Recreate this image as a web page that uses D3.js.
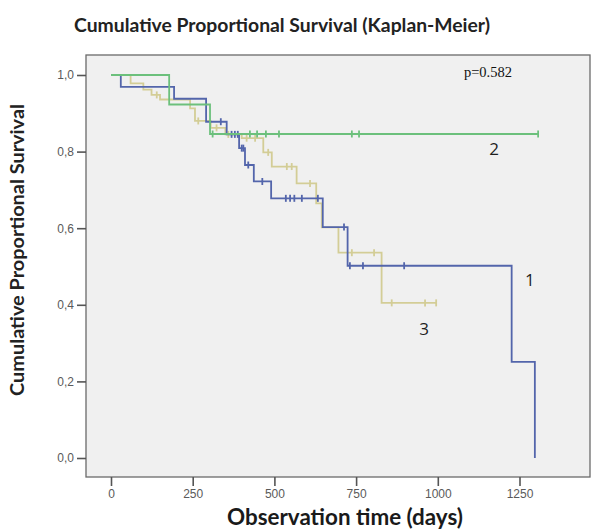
<!DOCTYPE html>
<html>
<head>
<meta charset="utf-8">
<script src="https://cdn.jsdelivr.net/npm/d3@7"></script>
<style>
  html, body { margin: 0; padding: 0; background: #ffffff; }
  svg { display: block; }
</style>
</head>
<body>
<div id="chart"></div>
<script>
// ---------- DATA ----------
const xTicks = [0, 250, 500, 750, 1000, 1250];
const yTicks = [0, 0.2, 0.4, 0.6, 0.8, 1.0];
const yTickLabels = ["0,0", "0,2", "0,4", "0,6", "0,8", "1,0"];

// Group 1 (blue)
const g1Times  = [0, 30, 193, 291, 354, 392, 410, 437, 490, 648, 724, 1226, 1297];
const g1Surv   = [1, 0.969, 0.938, 0.878, 0.845, 0.809, 0.765, 0.722, 0.678, 0.603, 0.502, 0.251, 0.0];
const g1Censor = [336, 369, 379, 388, 400, 405, 420, 463, 535, 548, 561, 584, 633, 713, 731, 771, 897];

// Group 2 (green)
const g2Times  = [0, 178, 303, 1307];
const g2Surv   = [1, 0.923, 0.846, 0.846];
const g2Censor = [311, 425, 447, 474, 514, 737, 759, 1307];

// Group 3 (tan)
const g3Times  = [0, 60, 99, 124, 150, 242, 257, 305, 350, 400, 466, 492, 568, 628, 645, 696, 828, 995];
const g3Surv   = [1, 0.978, 0.962, 0.948, 0.936, 0.913, 0.880, 0.862, 0.845, 0.835, 0.798, 0.761, 0.717, 0.665, 0.602, 0.536, 0.405, 0.405];
const g3Censor = [140, 267, 323, 359, 415, 441, 481, 538, 553, 609, 737, 805, 859, 961, 995];

const groupLabels = ["1", "2", "3"];
const titleText = "Cumulative Proportional Survival (Kaplan-Meier)";
const xTitle = "Observation time (days)";
const yTitle = "Cumulative Proportional Survival";
const pText = "p=0.582";

// ---------- LAYOUT ----------
const W = 593, H = 529;
const frame = { left: 86, top: 55, right: 590, bottom: 477 };

const svg = d3.select("#chart").append("svg")
  .attr("width", W).attr("height", H);

const x = d3.scaleLinear().domain([0, 1250]).range([111, 519.5]);
const y = d3.scaleLinear().domain([0, 1]).range([458, 75]);

// plot frame
svg.append("rect")
  .attr("x", frame.left).attr("y", frame.top)
  .attr("width", frame.right - frame.left)
  .attr("height", frame.bottom - frame.top)
  .attr("fill", "#f0f0f0")
  .attr("stroke", "#6a6a6a")
  .attr("stroke-width", 1.3);

// axes
const xAxis = d3.axisBottom(x).tickValues(xTicks).tickSize(9).tickPadding(3)
  .tickFormat(d => String(d));
const gx = svg.append("g").attr("transform", `translate(0,${frame.bottom})`).call(xAxis);

const yAxis = d3.axisLeft(y).tickValues(yTicks).tickSize(9).tickPadding(3)
  .tickFormat((d, i) => yTickLabels[i]);
const gy = svg.append("g").attr("transform", `translate(${frame.left},0)`).call(yAxis);

[gx, gy].forEach(g => {
  g.select(".domain").remove();
  g.selectAll(".tick line").attr("stroke", "#555").attr("stroke-width", 1.6);
  g.selectAll(".tick text")
    .attr("fill", "#5a5a5a")
    .style("font-family", "'Liberation Sans', Arial, sans-serif")
    .style("font-size", "12px");
});

// ---------- CURVES ----------
function survAt(times, surv, t) {
  let s = surv[0];
  for (let i = 0; i < times.length; i++) { if (times[i] <= t) s = surv[i]; }
  return s;
}

const groups = [
  { times: g3Times, surv: g3Surv, censor: g3Censor, color: "#d3cd96" },
  { times: g1Times, surv: g1Surv, censor: g1Censor, color: "#5365ab" },
  { times: g2Times, surv: g2Surv, censor: g2Censor, color: "#6cc07c" }
];

const line = d3.line().x(d => x(d[0])).y(d => y(d[1])).curve(d3.curveStepAfter);

groups.forEach(gr => {
  const pts = gr.times.map((t, i) => [t, gr.surv[i]]);
  svg.append("path")
    .attr("d", line(pts))
    .attr("fill", "none")
    .attr("stroke", gr.color)
    .attr("stroke-width", 1.8);
  svg.append("g").selectAll("line")
    .data(gr.censor)
    .join("line")
    .attr("x1", d => x(d)).attr("x2", d => x(d))
    .attr("y1", d => y(survAt(gr.times, gr.surv, d)) - 3.5)
    .attr("y2", d => y(survAt(gr.times, gr.surv, d)) + 3.5)
    .attr("stroke", gr.color)
    .attr("stroke-width", 1.8);
});

// group labels (positioned in data units)
const labelPos = [[1282, 0.462], [1172, 0.804], [958, 0.332]];
svg.append("g").selectAll("text")
  .data(groupLabels)
  .join("text")
  .attr("x", (d, i) => x(labelPos[i][0]))
  .attr("y", (d, i) => y(labelPos[i][1]))
  .attr("text-anchor", "middle")
  .attr("dominant-baseline", "middle")
  .attr("fill", "#1e1e1e")
  .style("font-family", "'Open Sans', sans-serif")
  .style("font-size", "17px")
  .text(d => d);

// p value
svg.append("text")
  .attr("x", 512).attr("y", 77)
  .attr("text-anchor", "end")
  .attr("fill", "#111")
  .style("font-family", "'Liberation Serif', 'Times New Roman', serif")
  .style("font-size", "14.5px")
  .text(pText);

// ---------- TITLES ----------
function fitText(sel, targetWidth) {
  const node = sel.node();
  const fs = parseFloat(sel.style("font-size"));
  const w = node.getComputedTextLength();
  if (w > 0) sel.style("font-size", (fs * targetWidth / w).toFixed(2) + "px");
}

const t = svg.append("text")
  .attr("x", 282).attr("y", 32)
  .attr("text-anchor", "middle")
  .attr("fill", "#222")
  .style("font-family", "Lato, 'Open Sans', sans-serif")
  .style("font-weight", "bold")
  .style("font-size", "17px")
  .text(titleText);
fitText(t, 416);

const xt = svg.append("text")
  .attr("x", 345).attr("y", 525)
  .attr("text-anchor", "middle")
  .attr("fill", "#1a1a1a")
  .style("font-family", "Lato, 'Open Sans', sans-serif")
  .style("font-weight", "bold")
  .style("font-size", "17px")
  .text(xTitle);
fitText(xt, 236);

const yt = svg.append("text")
  .attr("transform", "translate(24,250) rotate(-90)")
  .attr("text-anchor", "middle")
  .attr("fill", "#222")
  .style("font-family", "Lato, 'Open Sans', sans-serif")
  .style("font-weight", "bold")
  .style("font-size", "15px")
  .text(yTitle);
fitText(yt, 292);
</script>
</body>
</html>
